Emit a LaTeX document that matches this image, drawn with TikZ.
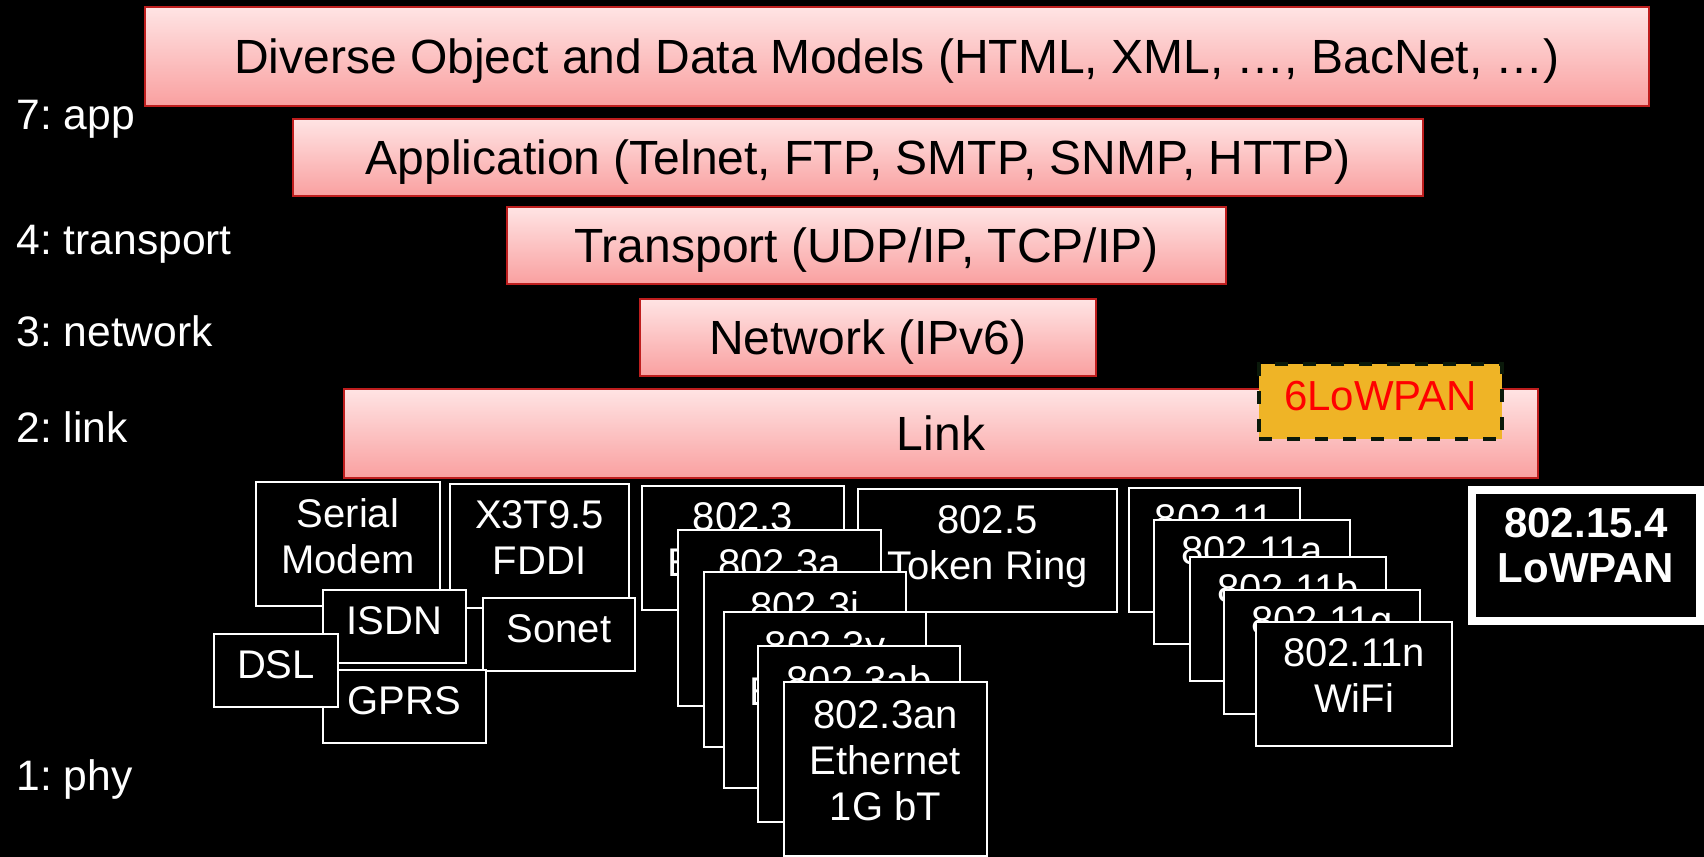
\documentclass[tikz,border=0pt]{standalone}
\usepackage{fontspec}
\setmainfont{Liberation Sans}
\usetikzlibrary{positioning}
\definecolor{barTop}{RGB}{255,228,228}
\definecolor{barBot}{RGB}{249,160,160}
\definecolor{barEdge}{RGB}{190,30,30}
\definecolor{lowGold}{RGB}{239,180,38}
\definecolor{lowRed}{RGB}{255,0,0}
\definecolor{lowDash}{RGB}{10,25,10}
\frenchspacing

\begin{document}
\begin{tikzpicture}[x=0.5pt, y=-0.5pt,
    layer/.style={draw=barEdge, line width=1.2pt, top color=barTop, bottom color=barBot,
        text=black, inner sep=0pt, text depth=0pt, font=\fontsize{24}{28}\selectfont},
    osi/.style={text=white, anchor=base west, inner sep=0pt, font=\fontsize{21.3}{25}\selectfont},
    phybox/.style={draw=white, line width=1pt, fill=black, text=white, align=center,
        inner sep=0pt, text depth=8pt, font=\fontsize{20}{23}\selectfont}]
        \useasboundingbox (0,0) rectangle (1704,857);
        \fill[black] (0,0) rectangle (1704,857);

        % layers %
        \node[layer, minimum width=752pt, minimum height=49.5pt] (models) at (897,56.5) {Diverse Object and Data Models (HTML, XML, …, BacNet, …)};
        \node[layer, minimum width=565pt, minimum height=38.5pt] (appl) at (858,157.5) {Application (Telnet, FTP, SMTP, SNMP, HTTP)};
        \node[layer, minimum width=359.5pt, minimum height=38.5pt] (transp) at (866.5,245.5) {Transport (UDP/IP, TCP/IP)};
        \node[layer, minimum width=228pt, minimum height=38.5pt] (netw) at (868,337.5) {Network (IPv6)};
        \node[layer, minimum width=597pt, minimum height=44.5pt] (link) at (941,433.5) {Link};
        \node[draw=lowDash, fill=lowGold, line width=2pt, dash pattern=on 6.5pt off 7.5pt,
              text=lowRed, inner sep=0pt, text depth=6pt, font=\fontsize{21}{25}\selectfont,
              minimum width=121.5pt, minimum height=37.5pt] (sixlow) at (1380.5,401.5) {6LoWPAN};

        % osi numbers %
        \node[osi] (l7) at (16,129) {7: app};
        \node[osi] (l4) at (16,254) {4: transport};
        \node[osi] (l3) at (16,346) {3: network};
        \node[osi] (l2) at (16,442) {2: link};
        \node[osi] (l1) at (16,790) {1: phy};

        % phy boxes %
        \node[phybox, minimum width=92pt, minimum height=62pt] (serial) at (348,544) {Serial\\Modem};
        \node[phybox, minimum width=89.5pt, minimum height=62pt] (fddi) at (539.5,546) {X3T9.5\\FDDI};
        \node[phybox, text depth=6pt, minimum width=71.5pt, minimum height=36.5pt] (isdn) at (394.5,626.5) {ISDN};
        \node[phybox, text depth=6pt, minimum width=76pt, minimum height=36.5pt] (sonet) at (559,634.5) {Sonet};
        \node[phybox, text depth=6pt, minimum width=81.5pt, minimum height=36.5pt] (gprs) at (404.5,706.5) {GPRS};
        \node[phybox, text depth=6pt, minimum width=62pt, minimum height=36.5pt] (dsl) at (276,670.5) {DSL};

        \node[phybox, text depth=7.5pt, minimum width=129.5pt, minimum height=61.5pt] (ring) at (987.5,550.5) {802.5\\Token Ring};
        \node[phybox, minimum width=101pt, minimum height=62pt] (e3) at (743,548) {802.3\\Ethernet};
        \node[phybox, minimum width=101.5pt, minimum height=88pt] (e3a) at (779.5,618) {802.3a\\Ethernet\\\phantom{1G bT}};
        \node[phybox, minimum width=101pt, minimum height=87.5pt] (e3i) at (805,659.5) {802.3i\\Ethernet\\\phantom{1G bT}};
        \node[phybox, minimum width=101pt, minimum height=88pt] (e3y) at (825,700) {802.3y\\Ethernet\\\phantom{1G bT}};
        \node[phybox, minimum width=101pt, minimum height=88pt] (e3ab) at (859,734) {802.3ab\\Ethernet\\\phantom{1G bT}};
        \node[phybox, minimum width=101.5pt, minimum height=87pt] (e3an) at (885.5,769) {802.3an\\Ethernet\\1G bT};

        \node[phybox, minimum width=85.5pt, minimum height=62pt] (w11) at (1214.5,550) {802.11\\\phantom{WiFi}};
        \node[phybox, minimum width=98pt, minimum height=62pt] (w11a) at (1252,582) {802.11a\\\phantom{WiFi}};
        \node[phybox, minimum width=98pt, minimum height=62pt] (w11b) at (1288,618.5) {802.11b\\\phantom{WiFi}};
        \node[phybox, minimum width=98pt, minimum height=62pt] (w11g) at (1322,652) {802.11g\\\phantom{WiFi}};
        \node[phybox, minimum width=98pt, minimum height=62pt] (w11n) at (1354,684) {802.11n\\WiFi};

        \node[phybox, line width=4pt, text depth=10pt, font=\fontsize{21}{22.5}\selectfont\bfseries,
              minimum width=114pt, minimum height=65.25pt] (lowpan) at (1586,555.25) {802.15.4\\LoWPAN};
\end{tikzpicture}
\end{document}
